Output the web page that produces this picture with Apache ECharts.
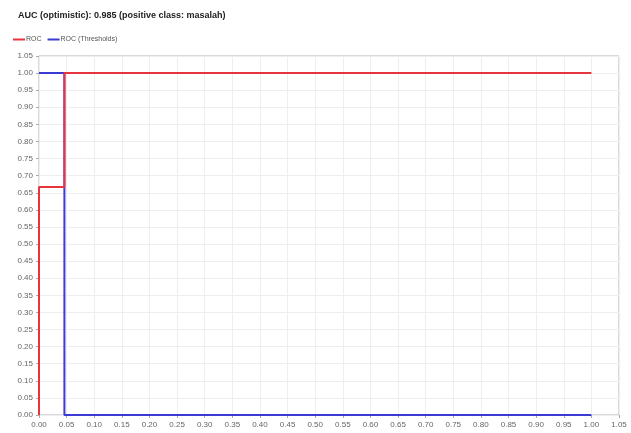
<!DOCTYPE html>
<html>
<head>
<meta charset="utf-8">
<script src="https://cdn.jsdelivr.net/npm/echarts@6/dist/echarts.min.js"></script>
<style>
  html, body { margin: 0; padding: 0; background: #fff; }
  #chart { width: 631px; height: 433px; }
</style>
</head>
<body>
<div id="chart"></div>
<script>
// ROC curve: false positive rate vs. true positive rate
const rocFpr = [0, 0, 0.046, 0.046, 1.0];
const rocTpr = [0, 0.667, 0.667, 1.0, 1.0];

// Threshold curve
const thrX = [0, 0.046, 0.046, 1.0];
const thrY = [1.0, 1.0, 0, 0];

const seriesNames = ['ROC', 'ROC (Thresholds)'];
const titleText = 'AUC (optimistic): 0.985 (positive class: masalah)';

const pairs = (xs, ys) => xs.map((x, i) => [x, ys[i]]);

const chart = echarts.init(document.getElementById('chart'), null, { renderer: 'canvas' });
const axisLabel = {
  color: '#666', fontSize: 8, fontFamily: 'Liberation Sans, Arial, sans-serif',
  formatter: v => v.toFixed(2)
};
chart.setOption({
  animation: false,
  backgroundColor: '#fff',
  title: {
    text: titleText, left: 13, top: 6,
    textStyle: { fontSize: 9, fontWeight: 'bold', color: '#222', fontFamily: 'Liberation Sans, Arial, sans-serif' }
  },
  legend: {
    left: 8, top: 31, itemWidth: 12, itemHeight: 2, itemGap: 6,
    icon: 'rect',
    data: seriesNames,
    textStyle: { fontSize: 7, color: '#555', padding: [0, 0, 0, -4], fontFamily: 'Liberation Sans, Arial, sans-serif' }
  },
  grid: {
    left: 39, right: 12, top: 56, bottom: 18,
    show: true, borderColor: '#b5b5b5', borderWidth: 1
  },
  xAxis: {
    type: 'value', min: 0, max: 1.05, interval: 0.05,
    axisLine: { show: false },
    axisTick: { show: true, length: 3, lineStyle: { color: '#aaa' } },
    axisLabel: Object.assign({ margin: 6 }, axisLabel),
    splitLine: { show: true, lineStyle: { color: '#eeeeee', width: 1 } }
  },
  yAxis: {
    type: 'value', min: 0, max: 1.05, interval: 0.05,
    axisLine: { show: false },
    axisTick: { show: true, length: 3, lineStyle: { color: '#aaa' } },
    axisLabel: Object.assign({ margin: 6 }, axisLabel),
    splitLine: { show: true, lineStyle: { color: '#eeeeee', width: 1 } }
  },
  series: [
    {
      name: seriesNames[0], type: 'line', data: pairs(rocFpr, rocTpr),
      showSymbol: false, symbol: 'none', z: 3,
      itemStyle: { color: '#e8343c' },
      lineStyle: { color: '#e8343c', width: 2 }
    },
    {
      name: seriesNames[1], type: 'line', data: pairs(thrX, thrY),
      showSymbol: false, symbol: 'none', z: 2,
      itemStyle: { color: '#3b3bd4' },
      lineStyle: { color: '#3b3bd4', width: 2 }
    }
  ]
});
</script>
</body>
</html>
